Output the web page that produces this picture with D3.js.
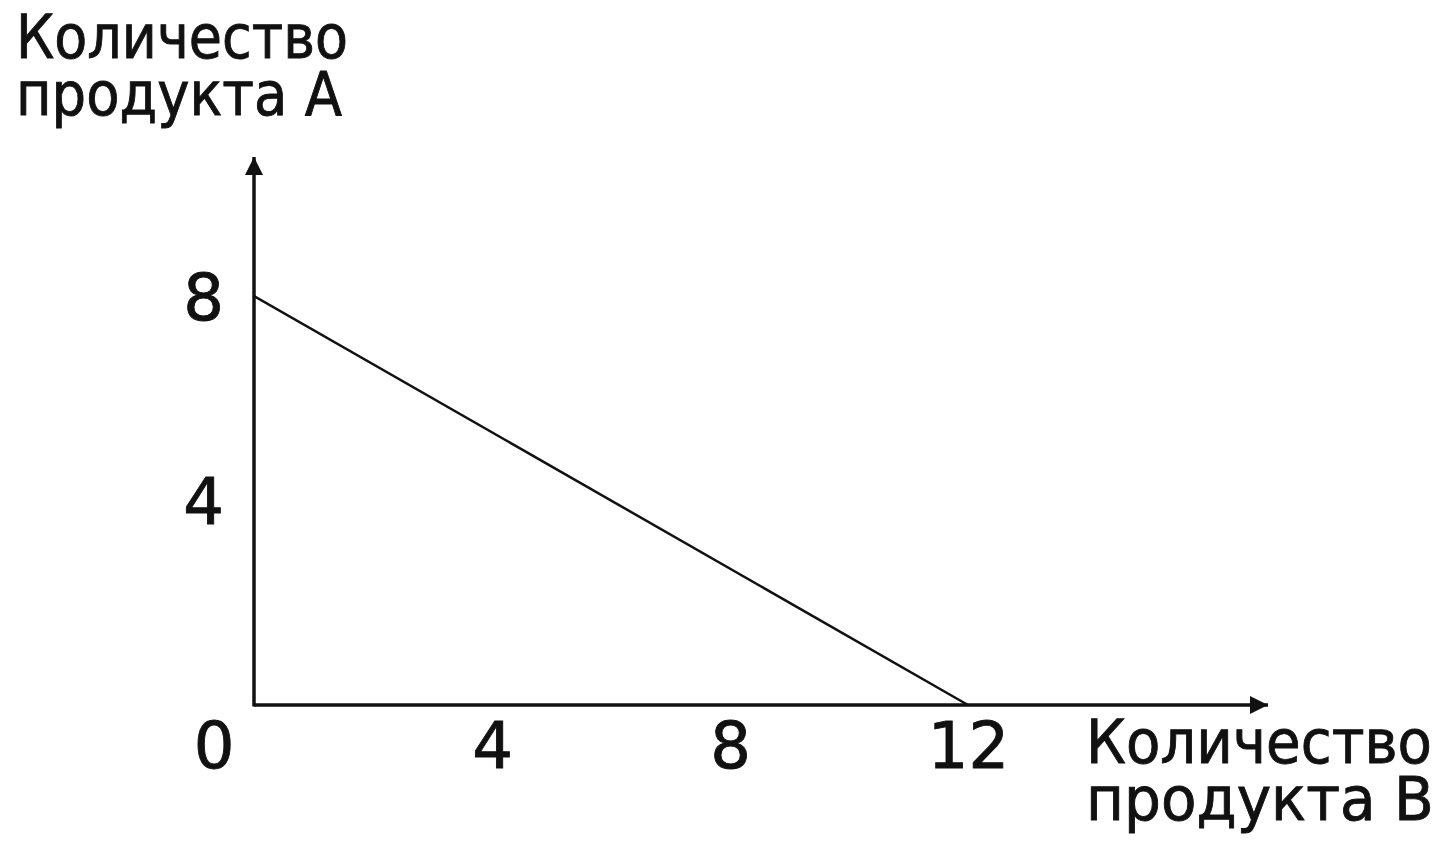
<!DOCTYPE html>
<meta charset="utf-8">
<style>
    body { margin: 0; background: #fff; }
    text {
        font-family: "DejaVu Sans", Verdana, sans-serif;
        fill: #111;
        stroke: #111;
        stroke-width: 0.9px;
    }
</style>
<svg id="svg" width="1447" height="855"></svg>
<script src="https://d3js.org/d3.v7.min.js"></script>
<script>

    // data
    var xTicks = [4, 8, 12];
    var yTicks = [4, 8];
    var lineB = [0, 12];   // продукт B
    var lineA = [8, 0];    // продукт A
    var yLabel = ["Количество", "продукта  А"];
    var xLabel = ["Количество", "продукта  В"];

    var svg = d3.select("svg");

    svg.append("rect").attr("width", 1447).attr("height", 855).attr("fill", "#fff");

    var x = d3.scaleLinear().domain([0, 12]).range([254, 968]);
    var y = d3.scaleLinear().domain([0, 8]).range([705, 296]);

    // arrow head
    svg.append("defs").append("marker")
        .attr("id", "arrow")
        .attr("viewBox", "0 0 10 10")
        .attr("refX", 10).attr("refY", 5)
        .attr("markerUnits", "userSpaceOnUse")
        .attr("markerWidth", 18).attr("markerHeight", 22)
        .attr("orient", "auto")
        .append("path")
        .attr("d", "M0,0 L10,5 L0,10 Z")
        .attr("fill", "#111");

    // axes lines
    svg.append("line")
        .attr("x1", x(0)).attr("y1", y(0))
        .attr("x2", 1268).attr("y2", y(0))
        .attr("stroke", "#111").attr("stroke-width", 3.5)
        .attr("marker-end", "url(#arrow)");

    svg.append("line")
        .attr("x1", x(0)).attr("y1", y(0) + 1.5)
        .attr("x2", x(0)).attr("y2", 157)
        .attr("stroke", "#111").attr("stroke-width", 3.5)
        .attr("marker-end", "url(#arrow)");

    // tick labels with d3 axes (no ticks, no domain)
    var xAxis = svg.append("g")
        .attr("transform", "translate(0," + y(0) + ")")
        .call(d3.axisBottom(x).tickValues(xTicks).tickSize(0).tickPadding(63));
    xAxis.select(".domain").remove();
    xAxis.selectAll("text").attr("font-size", 64).attr("fill", "#111")
        .attr("dy", 0).style("font-family", "DejaVu Sans");

    var yAxis = svg.append("g")
        .attr("transform", "translate(" + x(0) + ",0)")
        .call(d3.axisLeft(y).tickValues(yTicks).tickSize(0).tickPadding(30));
    yAxis.select(".domain").remove();
    yAxis.selectAll("text").attr("font-size", 64).attr("fill", "#111")
        .attr("dy", "0.36em").style("font-family", "DejaVu Sans");

    svg.append("text")
        .attr("x", x(0) - 40).attr("y", y(0) + 63)
        .attr("text-anchor", "middle")
        .attr("font-size", 64)
        .text("0");

    // the line
    svg.append("line")
        .attr("x1", x(lineB[0])).attr("y1", y(lineA[0]))
        .attr("x2", x(lineB[1])).attr("y2", y(lineA[1]))
        .attr("stroke", "#111").attr("stroke-width", 2.5);

    // axis titles
    svg.append("g").selectAll("text")
        .data(yLabel)
        .enter().append("text")
        .attr("x", 16)
        .attr("y", function (d, i) { return 58 + i * 57; })
        .attr("font-size", 60)
        .attr("textLength", function (d, i) { return i ? 326 : 332; })
        .attr("lengthAdjust", "spacingAndGlyphs")
        .text(function (d) { return d; });

    svg.append("g").selectAll("text")
        .data(xLabel)
        .enter().append("text")
        .attr("x", 1086)
        .attr("y", function (d, i) { return 763 + i * 57; })
        .attr("font-size", 60)
        .attr("textLength", function (d, i) { return i ? 348 : 346; })
        .attr("lengthAdjust", "spacingAndGlyphs")
        .text(function (d) { return d; });

</script>
